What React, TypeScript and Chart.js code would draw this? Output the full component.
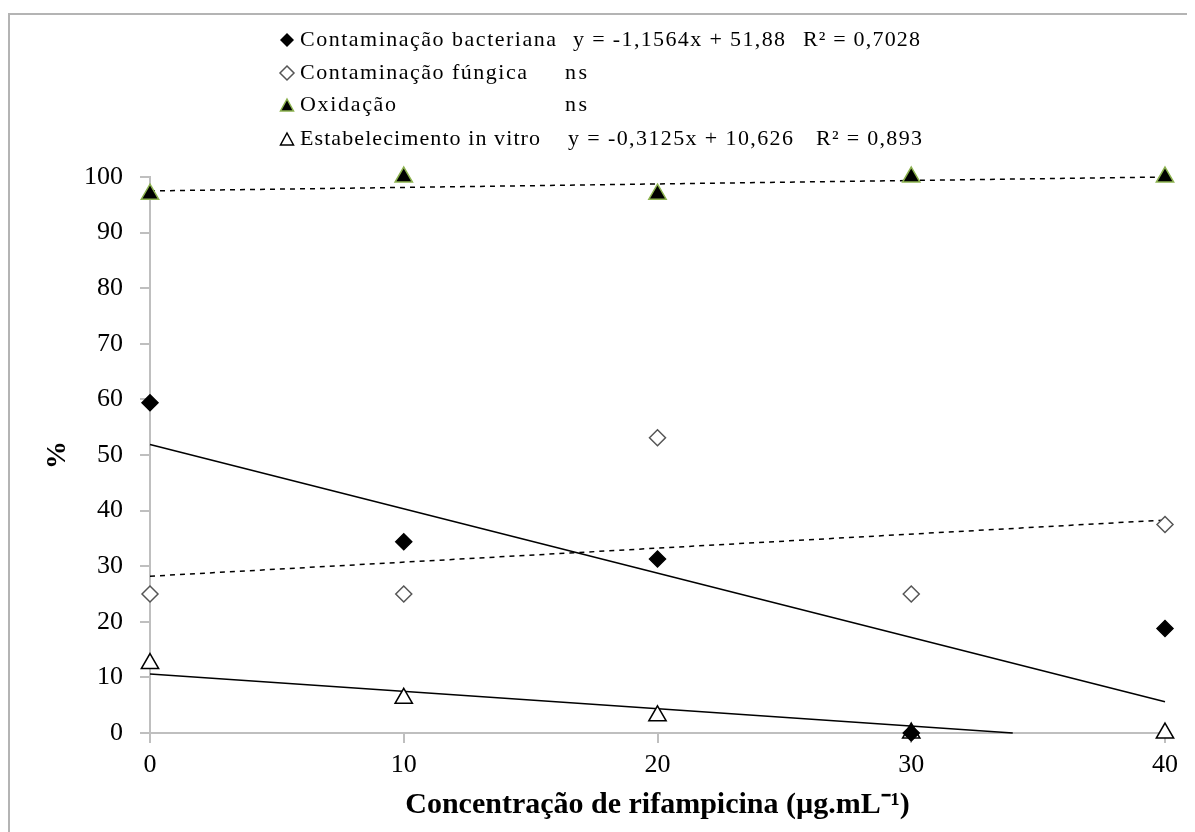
import React, { useEffect, useRef } from "react";
import { Chart, registerables } from "chart.js";

Chart.register(...registerables);

// ---- Data ----
const concentrations = [0, 10, 20, 30, 40];
const bacterial = [59.4, 34.4, 31.3, 0, 18.8];
const fungal = [25, 25, 53.1, 25, 37.5];
const oxidation = [96.9, 100, 96.9, 100, 100];
const establishment = [12.5, 6.25, 3.1, 0, 0];

// trend lines (from regression equations)
const trendX = [0, 40];
const bacterialTrend = [51.88, 5.624];
const fungalTrend = [28.2, 38.3];
const oxidationTrend = [97.5, 100];
const establishmentTrendX = [0, 34];
const establishmentTrendY = [10.626, 0];

const legendLabels = [
  "Contaminação bacteriana",
  "Contaminação fúngica",
  "Oxidação",
  "Estabelecimento in vitro",
];
const legendEquations = ["y = -1,1564x + 51,88", "ns", "ns", "y = -0,3125x + 10,626"];
const legendR2 = ["R² = 0,7028", "", "", "R² = 0,893"];

const xTitle = "Concentração de rifampicina (µg.mL⁻¹)";
const yTitle = "%";

const SERIF = "'Liberation Serif', 'Times New Roman', serif";
const GREEN = "#8cb24f";
const AXIS = "#bfbfbf";

const pts = (xs: number[], ys: number[]) => xs.map((x, i) => ({ x, y: ys[i] }));

function fitText(ctx: CanvasRenderingContext2D, text: string, x: number, y: number, width: number) {
  (ctx as any).letterSpacing = "0px";
  const w = ctx.measureText(text).width;
  const n = Array.from(text).length;
  const ls = n > 1 ? (width - w) / (n - 1) : 0;
  (ctx as any).letterSpacing = ls + "px";
  ctx.fillText(text, x, y);
  (ctx as any).letterSpacing = "0px";
}

function drawMarker(ctx: CanvasRenderingContext2D, kind: number, x: number, y: number) {
  ctx.save();
  ctx.lineWidth = 1.5;
  ctx.beginPath();
  if (kind === 0 || kind === 1) {
    const r = 7;
    ctx.moveTo(x, y - r);
    ctx.lineTo(x + r, y);
    ctx.lineTo(x, y + r);
    ctx.lineTo(x - r, y);
    ctx.closePath();
    if (kind === 0) {
      ctx.fillStyle = "#000";
      ctx.fill();
    } else {
      ctx.fillStyle = "#fff";
      ctx.fill();
      ctx.strokeStyle = "#555";
      ctx.stroke();
    }
  } else {
    const h = 12;
    const w = 13;
    ctx.moveTo(x, y - h / 2);
    ctx.lineTo(x + w / 2, y + h / 2);
    ctx.lineTo(x - w / 2, y + h / 2);
    ctx.closePath();
    if (kind === 2) {
      ctx.fillStyle = "#000";
      ctx.fill();
      ctx.strokeStyle = GREEN;
      ctx.stroke();
    } else {
      ctx.fillStyle = "#fff";
      ctx.fill();
      ctx.strokeStyle = "#000";
      ctx.stroke();
    }
  }
  ctx.restore();
}

const decorPlugin = {
  id: "decor",
  beforeDraw(chart: any) {
    const ctx = chart.ctx as CanvasRenderingContext2D;
    ctx.save();
    ctx.strokeStyle = "#b4b4b4";
    ctx.lineWidth = 2;
    ctx.beginPath();
    ctx.moveTo(1, chart.height);
    ctx.lineTo(1, 6);
    ctx.lineTo(chart.width, 6);
    ctx.stroke();
    ctx.restore();
  },
  afterDraw(chart: any) {
    const ctx = chart.ctx as CanvasRenderingContext2D;
    ctx.save();
    ctx.fillStyle = "#000";
    ctx.textBaseline = "middle";
    ctx.font = `22px ${SERIF}`;
    const rowsY = [32, 65, 97, 131];
    const labelW = [256, 227, 96, 240];
    const eqX = [565, 557, 557, 560];
    const eqW = [212, 22, 22, 225];
    const r2X = [795, 0, 0, 808];
    const r2W = [117, 0, 0, 106];
    legendLabels.forEach((lab, i) => {
      const y = rowsY[i];
      drawMarker(ctx, i, 279, y);
      fitText(ctx, lab, 292, y, labelW[i]);
      fitText(ctx, legendEquations[i], eqX[i], y, eqW[i]);
      if (legendR2[i]) fitText(ctx, legendR2[i], r2X[i], y, r2W[i]);
    });
    ctx.restore();
  },
};

export default function App() {
  const ref = useRef<HTMLCanvasElement>(null);
  useEffect(() => {
    document.documentElement.style.overflow = "hidden";
    const canvas = ref.current!;
    const trend = (data: any, dash: number[]) => ({
      data,
      showLine: true,
      borderColor: "#000",
      borderWidth: 1.5,
      borderDash: dash,
      pointRadius: 0,
      clip: false,
    });
    const chart = new Chart(canvas, {
      type: "scatter",
      data: {
        datasets: [
          {
            label: legendLabels[0],
            data: pts(concentrations, bacterial),
            pointStyle: "rectRot",
            pointRadius: 8,
            backgroundColor: "#000",
            borderColor: "#000",
            borderWidth: 1.5,
            clip: false,
          },
          {
            label: legendLabels[2],
            data: pts(concentrations, oxidation),
            pointStyle: "triangle",
            pointRadius: 10,
            backgroundColor: "#000",
            borderColor: GREEN,
            borderWidth: 1.5,
            clip: false,
          },
          {
            label: legendLabels[3],
            data: pts(concentrations, establishment),
            pointStyle: "triangle",
            pointRadius: 10,
            backgroundColor: "#fff",
            borderColor: "#000",
            borderWidth: 1.5,
            clip: false,
          },
          {
            label: legendLabels[1],
            data: pts(concentrations, fungal),
            pointStyle: "rectRot",
            pointRadius: 8,
            backgroundColor: "#fff",
            borderColor: "#555",
            borderWidth: 1.5,
            clip: false,
          },
          { label: "bacterial trend", ...trend(pts(trendX, bacterialTrend), []) },
          { label: "fungal trend", ...trend(pts(trendX, fungalTrend), [5, 5]) },
          { label: "oxidation trend", ...trend(pts(trendX, oxidationTrend), [5, 5]) },
          {
            label: "establishment trend",
            ...trend(pts(establishmentTrendX, establishmentTrendY), []),
          },
        ] as any,
      },
      options: {
        animation: false,
        responsive: false,
        devicePixelRatio: 1,
        layout: { padding: { top: 169, right: 30, left: 0, bottom: 0 } },
        plugins: { legend: { display: false }, tooltip: { enabled: false } },
        scales: {
          x: {
            type: "linear",
            min: 0,
            max: 40,
            afterFit: (s: any) => {
              s.height = 99;
            },
            ticks: {
              stepSize: 10,
              color: "#000",
              padding: 7,
              font: { family: SERIF, size: 26 },
            },
            grid: {
              display: true,
              drawOnChartArea: false,
              drawTicks: true,
              tickLength: 10,
              color: AXIS,
              lineWidth: 2,
            },
            border: { display: true, color: AXIS, width: 2 },
            title: {
              display: true,
              text: xTitle,
              color: "#000",
              font: { family: SERIF, size: 30, weight: "bold" },
              padding: { top: 0, bottom: 9 },
            },
          },
          y: {
            type: "linear",
            min: 0,
            max: 100,
            afterFit: (s: any) => {
              s.width = 142;
            },
            ticks: {
              stepSize: 10,
              color: "#000",
              padding: 17,
              font: { family: SERIF, size: 26 },
            },
            grid: {
              display: true,
              drawOnChartArea: false,
              drawTicks: true,
              tickLength: 10,
              color: AXIS,
              lineWidth: 2,
            },
            border: { display: true, color: AXIS, width: 2 },
            title: {
              display: true,
              text: yTitle,
              color: "#000",
              font: { family: SERIF, size: 28, weight: "bold" },
              padding: { top: 33, bottom: 0 },
            },
          },
        },
      } as any,
      plugins: [decorPlugin],
    });
    return () => chart.destroy();
  }, []);
  return (
    <div style={{ width: 1187, height: 824 }}>
      <canvas ref={ref} width={1187} height={824} />
    </div>
  );
}
